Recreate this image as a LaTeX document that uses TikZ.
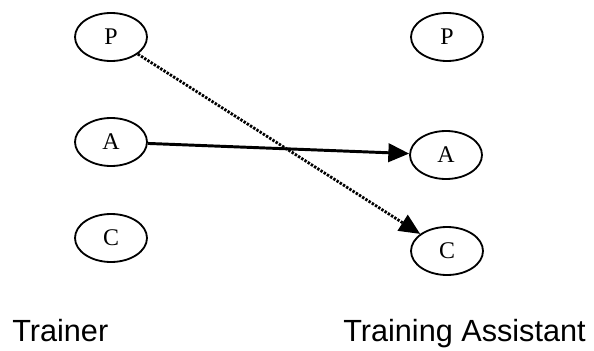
\documentclass[tikz,border=0pt]{standalone}
\usepackage{fontspec}
\setmainfont{Liberation Serif}
\setsansfont{Liberation Sans}
\usetikzlibrary{arrows.meta,shapes.geometric}

\begin{document}
\begin{tikzpicture}[
  role/.style={draw, ellipse, line width=1.3pt, minimum width=1.8cm, minimum height=1.2cm, inner sep=0pt, font=\fontsize{17}{19}\selectfont},
  side/.style={anchor=base west, inner sep=0pt, font=\sffamily\fontsize{21.8}{24}\selectfont},
  arr/.style={-{Triangle[length=0.52cm, width=0.46cm]}, line width=2.1pt},
  link/.style={-{Triangle[length=0.52cm, width=0.46cm]}, line width=2pt, dash pattern=on 0.06cm off 0.035cm}
]
\useasboundingbox (0,0) rectangle (14.85,-8.75);

% trainer side
\node[role] (tP) at (2.775,-0.925) {P};
\node[role] (tA) at (2.775,-3.55) {A};
\node[role] (tC) at (2.775,-5.95) {C};

% assistant side
\node[role] (aP) at (11.175,-0.925) {P};
\node[role] (aA) at (11.15,-3.875) {A};
\node[role] (aC) at (11.175,-6.275) {C};

\draw[arr] (tA) -- (aA);
\draw[link] (tP) -- (aC);

\node[side] (trainer) at (0.3,-8.53) {Trainer};
\node[side] (assistant) at (8.575,-8.53) {Training Assistant};
\end{tikzpicture}
\end{document}
